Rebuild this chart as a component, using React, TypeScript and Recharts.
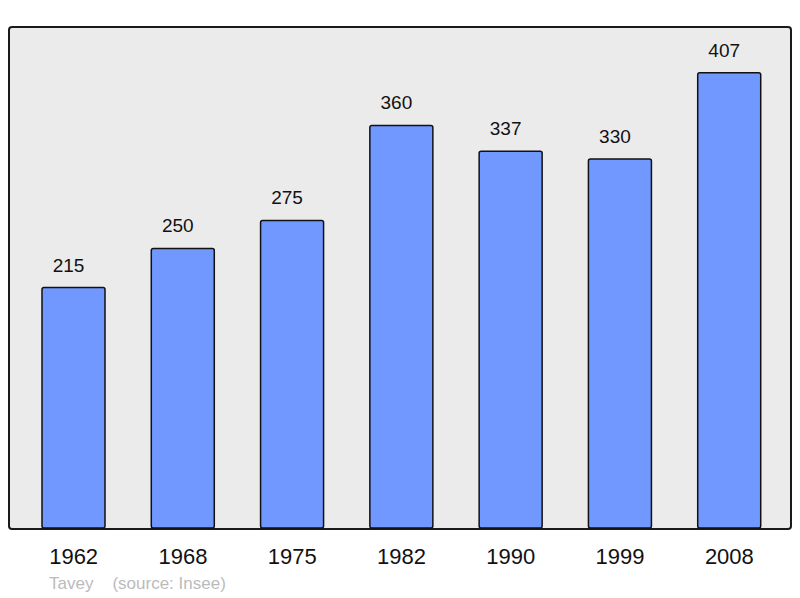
import React from "react";
import { BarChart, Bar, XAxis, YAxis, LabelList } from "recharts";

const years = ["1962", "1968", "1975", "1982", "1990", "1999", "2008"];
const population = [215, 250, 275, 360, 337, 330, 407];
const commune = "Tavey";
const source = "(source: Insee)";

const data = years.map((year, i) => ({ year, population: population[i] }));

const font = "'Liberation Sans', Arial, sans-serif";

export default function App() {
  return (
    <div style={{ position: "absolute", left: 0, top: 0, width: 800, height: 598, background: "#fff", fontFamily: font }}>
      <div
        style={{
          position: "absolute",
          left: 8,
          top: 26,
          width: 780,
          height: 500,
          background: "#ebebeb",
          border: "2px solid #1a1a1a",
          borderRadius: 4,
        }}
      />
      <div style={{ position: "absolute", left: 0, top: 0 }}>
        <BarChart
          width={800}
          height={598}
          data={data}
          margin={{ top: 27, right: 16, bottom: 0, left: 19 }}
          barCategoryGap={23}
        >
          <XAxis
            dataKey="year"
            height={70}
            axisLine={false}
            tickLine={false}
            tickSize={0}
            tickMargin={20}
            interval={0}
            tick={{ fill: "#111", fontSize: 22, fontFamily: font }}
          />
          <YAxis hide domain={[0, 448]} />
          <Bar
            dataKey="population"
            fill="#7098ff"
            stroke="#111"
            strokeWidth={1.5}
            radius={2}
            isAnimationActive={false}
          >
            <LabelList
              dataKey="population"
              position="top"
              offset={16}
              dx={-5}
              fill="#111"
              fontSize={19}
              fontFamily={font}
            />
          </Bar>
        </BarChart>
      </div>
      <div style={{ position: "absolute", left: 49, top: 574, fontSize: 17, color: "#bbb", whiteSpace: "pre" }}>
        <span>{commune}</span>
        <span style={{ marginLeft: 19 }}>{source}</span>
      </div>
    </div>
  );
}
